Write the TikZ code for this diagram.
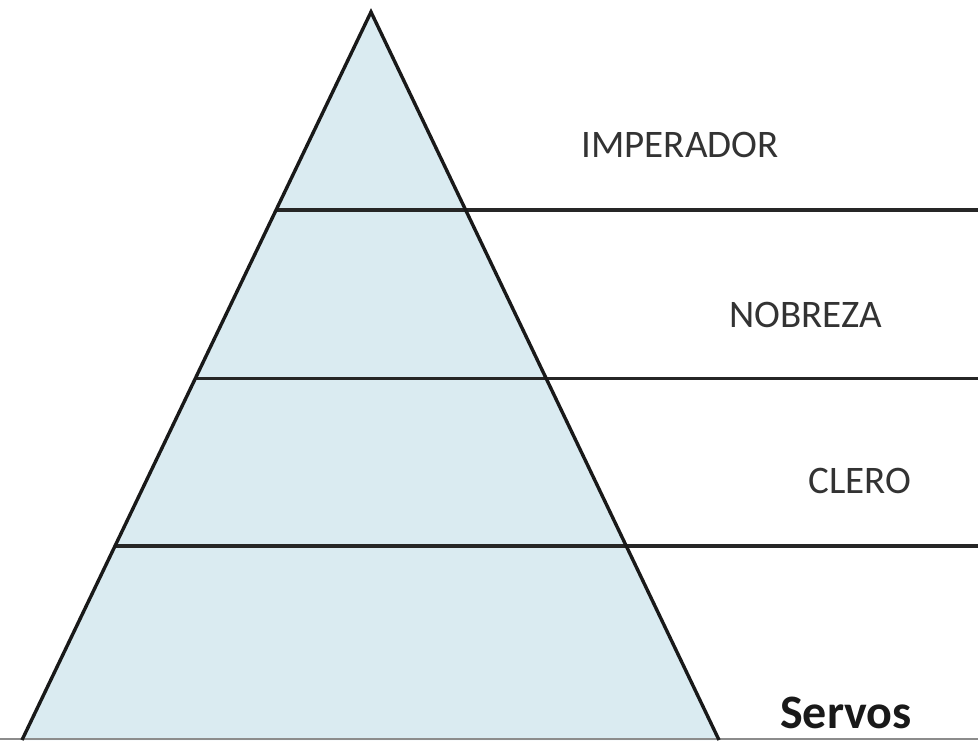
\documentclass[tikz,border=0pt]{standalone}
\usepackage{fontspec}
\setmainfont{Carlito}
\usetikzlibrary{calc,positioning}
\definecolor{layerblue}{RGB}{218,235,241}
\tikzset{layer/.style={
            fill=layerblue,
            draw=none
        },
        edge/.style={
            line width=3.4pt,
            black!90
        },
        level/.style={
            line width=3.2pt,
            black!85
        },
        label/.style={
            font=\fontsize{39}{42}\selectfont,
            text=black!80,
            inner sep=0pt
        },
        baselabel/.style={
            font=\fontsize{48}{52}\selectfont\bfseries,
            text=black!90,
            inner sep=0pt,
            anchor=base
        }
    }

\begin{document}
\begin{tikzpicture}[x=1pt,y=-1pt]
        \useasboundingbox (0,0) rectangle (978,740);

        \coordinate (apex) at (371,12);
        \coordinate (baseL) at (22,740);
        \coordinate (baseR) at (719,740);
        \coordinate (right) at (978,0);

        % pyramid
        \fill[layer] (apex) -- (baseL) -- (baseR) -- cycle;

        % levels
        \coordinate (l1) at ($(apex)!0.272!(baseL)$);
        \coordinate (l2) at ($(apex)!0.503!(baseL)$);
        \coordinate (l3) at ($(apex)!0.7335!(baseL)$);
        \draw[level] (l1) -- (l1 -| right);
        \draw[level] (l2) -- (l2 -| right);
        \draw[level] (l3) -- (l3 -| right);
        \draw[black!45, line width=2.5pt] (0,739) -- (978,739);

        \draw[edge, line join=miter] (baseL) -- (apex) -- (baseR);

        \node[label] at (680,145) (imperador) {IMPERADOR};
        \node[label] at (806,315) (nobreza) {NOBREZA};
        \node[label] at (860,481) (clero) {CLERO};
        \node[baselabel] at (846,728) (servos) {Servos};

    \end{tikzpicture}
\end{document}
